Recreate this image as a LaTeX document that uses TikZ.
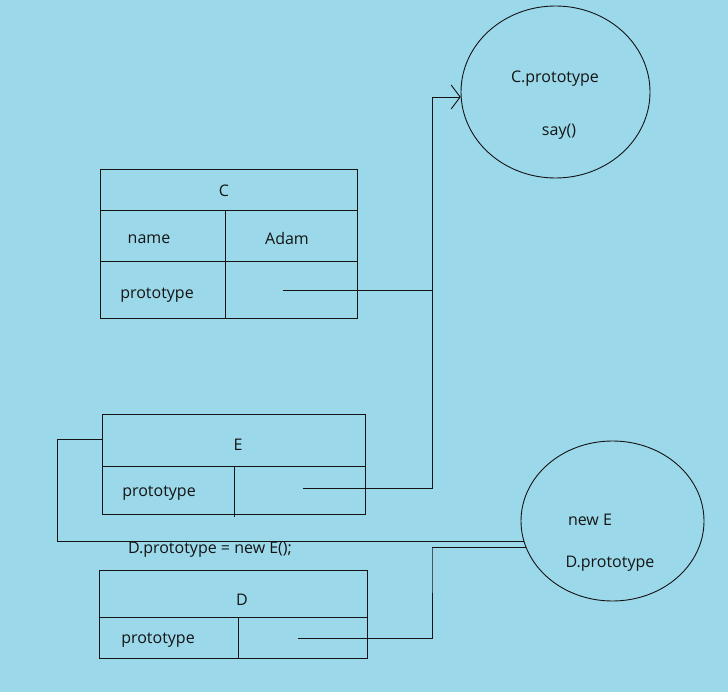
\documentclass[tikz,border=0pt]{standalone}
\usepackage{fontspec}
\setmainfont{Open Sans}
\usetikzlibrary{arrows.meta,positioning,calc,shapes.geometric}
\definecolor{bgblue}{RGB}{155,217,234}
\definecolor{ink}{RGB}{20,20,20}

\begin{document}
\begin{tikzpicture}[x=1pt,y=-1pt,>={Straight Barb[length=9pt,width=24pt]},
		font=\fontsize{16}{18}\selectfont,line width=0.9pt,draw=ink,text=ink]
	\tikzset{
		cell/.style={draw,rectangle,inner sep=0pt,anchor=north west},
		obj/.style={draw,ellipse,inner sep=0pt},
		lbl/.style={inner sep=1pt,yshift=-2pt}
	}
	\fill[bgblue] (0,0) rectangle (728,692);
	\useasboundingbox (0,0) rectangle (728,692);

	% prototype objects
	\node[obj,minimum width=189pt,minimum height=172pt] (Cproto) at (555.5,92) {};
	\node[lbl] (CprotoName) at (555,77) {C.prototype};
	\node[lbl] (say) at (559,130) {say()};

	\node[obj,minimum width=183pt,minimum height=160pt] (newE) at (612.5,521) {};
	\node[lbl] (newEName) at (590,518) {new E};
	\node[lbl] (DprotoName) at (610,562) {D.prototype};

	% constructor C
	\node[cell,minimum width=257pt,minimum height=41pt] (Chead) at (100,169) {};
	\node[cell,minimum width=125pt,minimum height=51pt] (Cname) at (100,210) {};
	\node[cell,minimum width=132pt,minimum height=51pt] (Cval) at (225,210) {};
	\node[cell,minimum width=125pt,minimum height=57pt] (Cproto1) at (100,261) {};
	\node[cell,minimum width=132pt,minimum height=57pt] (Cptrcell) at (225,261) {};
	\node[lbl] (Cname1) at (224,189) {C};
	\node[lbl] (name) at (149,237) {name};
	\node[lbl] (adam) at (287,237) {Adam};
	\node[lbl] (Cprotolbl) at (157,293) {prototype};

	% constructor E
	\node[cell,minimum width=263pt,minimum height=100pt] (Ebox) at (102,414) {};
	\node[lbl] (Ename) at (238,443) {E};
	\node[lbl] (Eprotolbl) at (159,491) {prototype};
	\draw (Ebox.west |- 0,466) -- (Ebox.east |- 0,466);
	\draw (234,466) -- (234,517);

	% constructor D
	\node[cell,minimum width=268pt,minimum height=88pt] (Dbox) at (99,570) {};
	\node[lbl] (Dname) at (242,598) {D};
	\node[lbl] (Dprotolbl) at (158,638) {prototype};
	\draw (Dbox.west |- 0,617) -- (Dbox.east |- 0,617);
	\draw (238,617) -- (238,658);

	\node[lbl] (assign) at (210,548) {D.prototype = new E();};

	% links
	\coordinate (Cptr) at (283,290);
	\coordinate (Eptr) at (303,488);
	\coordinate (Dptr) at (298,638);
	\coordinate (Ebend) at (432,488);
	\coordinate (Dbend) at (432,548);
	\draw (Cptr) -- (Cptr -| Ebend);
	\draw[->] (Eptr) -- (Ebend) |- (Cproto.183);
	\draw (Ebox.west |- 0,439) -- (57,439) |- (newE.193);
	\draw (Dptr) -| (Dbend) |- (newE.197);
\end{tikzpicture}
\end{document}
